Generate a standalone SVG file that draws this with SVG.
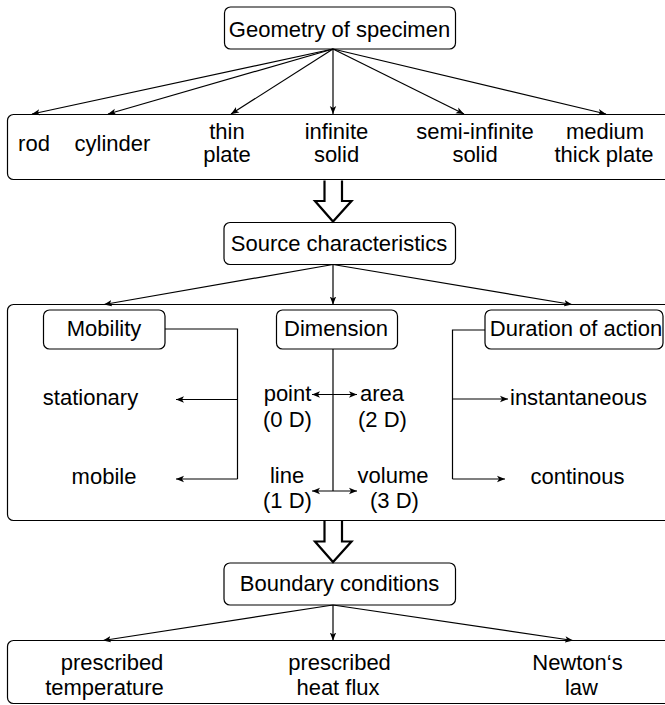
<svg xmlns="http://www.w3.org/2000/svg" width="665" height="705" viewBox="0 0 665 705">
<defs>
<marker id="ah" markerUnits="userSpaceOnUse" markerWidth="10" markerHeight="8" refX="8" refY="4" orient="auto-start-reverse">
<path d="M0,0.8 L8,4 L0,7.2 L2,4 Z" fill="#000"/>
</marker>
<style>
.box{fill:#fff;stroke:#000;stroke-width:1.2}
.t{font-family:"Liberation Sans",Arial,sans-serif;font-size:22px;fill:#000;text-anchor:middle}
.ts{font-family:"Liberation Sans",Arial,sans-serif;font-size:22px;fill:#000;text-anchor:start}
.c{fill:none;stroke:#000;stroke-width:1.2}
.ca{fill:none;stroke:#000;stroke-width:1.2;marker-end:url(#ah)}
.cb{fill:none;stroke:#000;stroke-width:1.2;marker-end:url(#ah);marker-start:url(#ah)}
.hol{fill:#fff;stroke:#000;stroke-width:2.2;stroke-linejoin:miter}
</style>
</defs>

<g id="geometry-panel">
<rect class="box" x="7.5" y="114.5" width="670" height="65" rx="6"/>
<text class="t" x="34" y="151">rod</text>
<text class="t" x="112.5" y="151">cylinder</text>
<text class="t" x="227" y="138.5">thin</text>
<text class="t" x="227" y="162">plate</text>
<text class="t" x="336.5" y="138.5">infinite</text>
<text class="t" x="336.5" y="162">solid</text>
<text class="t" x="475" y="138.5">semi-infinite</text>
<text class="t" x="475" y="162">solid</text>
<text class="t" x="605" y="138.5">medium</text>
<text class="t" x="604" y="162">thick plate</text>
</g>

<g id="source-panel">
<rect class="box" x="7.5" y="304.5" width="670" height="216" rx="6"/>
<text class="t" x="90.5" y="405">stationary</text>
<text class="t" x="104" y="484">mobile</text>
<text class="t" x="287.5" y="401">point</text>
<text class="t" x="287.5" y="427">(0 D)</text>
<text class="t" x="382" y="401">area</text>
<text class="t" x="382.5" y="427">(2 D)</text>
<text class="t" x="287" y="483">line</text>
<text class="t" x="287.5" y="508">(1 D)</text>
<text class="t" x="393" y="483">volume</text>
<text class="t" x="394.5" y="508">(3 D)</text>
<text class="ts" x="510" y="405">instantaneous</text>
<text class="t" x="577.5" y="484">continous</text>
</g>

<g id="boundary-panel">
<rect class="box" x="7.5" y="640.5" width="670" height="63" rx="6"/>
<text class="t" x="112" y="670">prescribed</text>
<text class="t" x="104.5" y="695">temperature</text>
<text class="t" x="339.5" y="670">prescribed</text>
<text class="t" x="338" y="695">heat flux</text>
<text class="t" x="577.5" y="670">Newton‘s</text>
<text class="t" x="581.5" y="695">law</text>
</g>

<g id="geometry">
<rect class="box" x="224.5" y="7" width="231" height="42" rx="6"/>
<text class="t" x="339.5" y="37">Geometry of specimen</text>
</g>

<g id="source">
<rect class="box" x="224" y="222.5" width="231.5" height="42" rx="6"/>
<text class="t" x="339" y="250.5">Source characteristics</text>
</g>

<g id="mobility">
<rect class="box" x="43.5" y="310" width="121.5" height="39" rx="6"/>
<text class="t" x="104" y="336">Mobility</text>
</g>

<g id="dimension">
<rect class="box" x="276.5" y="310" width="121" height="39" rx="6"/>
<text class="t" x="336" y="336">Dimension</text>
</g>

<g id="duration">
<rect class="box" x="485" y="310" width="178" height="39" rx="6"/>
<text class="t" x="576" y="336">Duration of action</text>
</g>

<g id="boundary">
<rect class="box" x="224" y="563" width="231.5" height="42" rx="6"/>
<text class="t" x="339.5" y="591">Boundary conditions</text>
</g>

<g id="connectors">
<line class="ca" x1="333" y1="49" x2="32" y2="114"/>
<line class="ca" x1="333" y1="49" x2="108" y2="114"/>
<line class="ca" x1="333" y1="49" x2="231" y2="114"/>
<line class="ca" x1="333" y1="49" x2="333" y2="114"/>
<line class="ca" x1="333" y1="49" x2="464" y2="114"/>
<line class="ca" x1="333" y1="49" x2="606" y2="114"/>

<path class="hol" d="M324.5,180.5 L324.5,201 L315,201 L333,221.5 L351.5,201 L342,201 L342,180.5"/>

<line class="ca" x1="333" y1="264.5" x2="104" y2="304.5"/>
<line class="ca" x1="333" y1="264.5" x2="333" y2="304.5"/>
<line class="ca" x1="333" y1="264.5" x2="572" y2="304.5"/>

<polyline class="c" points="165,329 237.5,329 237.5,479"/>
<line class="ca" x1="237.5" y1="399.5" x2="176" y2="399.5"/>
<line class="ca" x1="237.5" y1="479" x2="176" y2="479"/>

<line class="c" x1="333" y1="349" x2="333" y2="491"/>
<line class="cb" x1="312" y1="394.5" x2="357" y2="394.5"/>
<line class="cb" x1="312" y1="491" x2="357" y2="491"/>

<polyline class="c" points="485,330 452.5,330 452.5,479"/>
<line class="ca" x1="452.5" y1="399" x2="508" y2="399"/>
<line class="ca" x1="452.5" y1="479" x2="505" y2="479"/>

<path class="hol" d="M324.5,521 L324.5,541.5 L315,541.5 L333,562 L351.5,541.5 L342,541.5 L342,521"/>

<line class="ca" x1="333" y1="605" x2="103" y2="640.5"/>
<line class="ca" x1="333" y1="605" x2="333" y2="640.5"/>
<line class="ca" x1="333" y1="605" x2="573" y2="640.5"/>
</g>
</svg>
